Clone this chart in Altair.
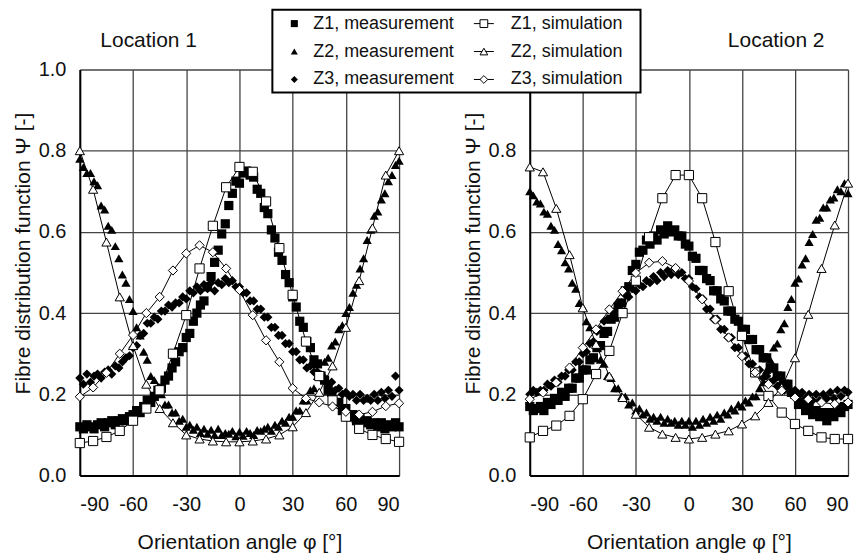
import altair as alt
import pandas as pd

FONT = "Liberation Sans"

series = ["Z1", "Z2", "Z3"]
shapes = ["square", "triangle-up", "diamond"]

x_sim = [-90, -82.5, -75, -67.5, -60, -52.5, -45, -37.5, -30, -22.5, -15, -7.5, 0,
         7.5, 15, 22.5, 30, 37.5, 45, 52.5, 60, 67.5, 75, 82.5, 90]
x_meas = list(range(-90, 91, 2))

# ---------------- Location 1 ----------------
L1_Z1_sim = [0.08, 0.085, 0.095, 0.11, 0.135, 0.165, 0.21, 0.30, 0.395, 0.51, 0.615, 0.71, 0.76,
             0.748, 0.675, 0.56, 0.445, 0.33, 0.245, 0.185, 0.145, 0.115, 0.10, 0.09, 0.083]
L1_Z2_sim = [0.80, 0.705, 0.575, 0.44, 0.32, 0.225, 0.165, 0.13, 0.10, 0.09, 0.085, 0.083, 0.083,
             0.085, 0.09, 0.10, 0.12, 0.155, 0.205, 0.27, 0.365, 0.48, 0.61, 0.74, 0.80]
L1_Z3_sim = [0.194, 0.217, 0.253, 0.30, 0.346, 0.40, 0.44, 0.505, 0.547, 0.567, 0.55, 0.51, 0.457,
             0.395, 0.333, 0.28, 0.215, 0.19, 0.18, 0.17, 0.157, 0.15, 0.157, 0.171, 0.178]

L1_Z1_meas = [0.12, 0.115, 0.125, 0.12, 0.115, 0.125, 0.13, 0.12, 0.13, 0.135,
              0.125, 0.135, 0.14, 0.135, 0.145, 0.15, 0.16, 0.155, 0.17, 0.185,
              0.18, 0.195, 0.21, 0.215, 0.235, 0.245, 0.265, 0.28, 0.305, 0.315,
              0.34, 0.35, 0.38, 0.40, 0.42, 0.43, 0.465, 0.49, 0.525, 0.555,
              0.595, 0.62, 0.665, 0.695, 0.725, 0.72, 0.745, 0.75, 0.74, 0.735,
              0.705, 0.695, 0.66, 0.645, 0.605, 0.585, 0.55, 0.53, 0.495, 0.475,
              0.44, 0.415, 0.38, 0.365, 0.33, 0.315, 0.285, 0.275, 0.245, 0.235,
              0.21, 0.205, 0.18, 0.18, 0.16, 0.165, 0.145, 0.15, 0.135, 0.14,
              0.13, 0.135, 0.125, 0.13, 0.12, 0.13, 0.115, 0.125, 0.12, 0.13,
              0.12]
L1_Z2_meas = [0.78, 0.76, 0.745, 0.745, 0.725, 0.715, 0.665, 0.655, 0.615, 0.605,
              0.565, 0.535, 0.495, 0.475, 0.435, 0.405, 0.365, 0.345, 0.305, 0.285,
              0.245, 0.235, 0.205, 0.2, 0.175, 0.175, 0.155, 0.155, 0.135, 0.14,
              0.12, 0.125, 0.113, 0.12, 0.105, 0.115, 0.103, 0.113, 0.1, 0.115,
              0.1, 0.105, 0.103, 0.11, 0.097, 0.108, 0.098, 0.11, 0.105, 0.1,
              0.112, 0.11, 0.115, 0.12, 0.11, 0.125, 0.12, 0.135, 0.13, 0.145,
              0.145, 0.16, 0.16, 0.185, 0.185, 0.21, 0.215, 0.245, 0.25, 0.28,
              0.29, 0.32, 0.33, 0.36, 0.37, 0.4, 0.415, 0.45, 0.47, 0.51,
              0.535, 0.58, 0.605, 0.64, 0.65, 0.68, 0.695, 0.725, 0.74, 0.765,
              0.775]
L1_Z3_meas = [0.24, 0.225, 0.25, 0.23, 0.245, 0.25, 0.24, 0.255, 0.26, 0.25,
              0.27, 0.265, 0.28, 0.29, 0.295, 0.315, 0.32, 0.345, 0.35, 0.375,
              0.375, 0.39, 0.385, 0.405, 0.405, 0.42, 0.415, 0.425, 0.425, 0.44,
              0.435, 0.455, 0.45, 0.465, 0.455, 0.47, 0.46, 0.475, 0.455, 0.475,
              0.47, 0.485, 0.475, 0.48, 0.465, 0.465, 0.45, 0.45, 0.43, 0.43,
              0.41, 0.41, 0.39, 0.39, 0.365, 0.365, 0.345, 0.345, 0.325, 0.325,
              0.305, 0.305, 0.285, 0.285, 0.265, 0.27, 0.255, 0.255, 0.24, 0.24,
              0.225, 0.23, 0.21, 0.215, 0.2, 0.205, 0.195, 0.2, 0.185, 0.2,
              0.185, 0.19, 0.185, 0.2, 0.185, 0.205, 0.19, 0.21, 0.195, 0.245,
              0.21]

# ---------------- Location 2 ----------------
L2_Z1_sim = [0.094, 0.11, 0.123, 0.147, 0.188, 0.25, 0.307, 0.40, 0.48, 0.587, 0.683, 0.74, 0.74,
             0.683, 0.575, 0.454, 0.344, 0.254, 0.196, 0.155, 0.127, 0.11, 0.094, 0.09, 0.09]
L2_Z2_sim = [0.76, 0.748, 0.658, 0.544, 0.413, 0.323, 0.245, 0.192, 0.151, 0.119, 0.102, 0.094, 0.09,
             0.094, 0.102, 0.11, 0.127, 0.147, 0.18, 0.217, 0.29, 0.397, 0.51, 0.617, 0.72]
L2_Z3_sim = [0.188, 0.204, 0.229, 0.266, 0.315, 0.36, 0.409, 0.454, 0.499, 0.524, 0.528, 0.511, 0.479,
             0.434, 0.384, 0.34, 0.294, 0.254, 0.225, 0.209, 0.192, 0.188, 0.18, 0.176, 0.18]

L2_Z1_meas = [0.17, 0.16, 0.165, 0.17, 0.16, 0.18, 0.175, 0.19, 0.185, 0.205,
              0.195, 0.215, 0.215, 0.24, 0.24, 0.26, 0.26, 0.285, 0.29, 0.315,
              0.32, 0.35, 0.355, 0.385, 0.39, 0.415, 0.425, 0.455, 0.465, 0.505,
              0.52, 0.55, 0.555, 0.58, 0.57, 0.59, 0.58, 0.605, 0.595, 0.615,
              0.6, 0.605, 0.59, 0.59, 0.57, 0.565, 0.54, 0.535, 0.505, 0.505,
              0.485, 0.48, 0.455, 0.455, 0.435, 0.43, 0.405, 0.405, 0.385, 0.38,
              0.36, 0.36, 0.335, 0.335, 0.31, 0.31, 0.29, 0.29, 0.265, 0.265,
              0.245, 0.245, 0.225, 0.225, 0.205, 0.2, 0.175, 0.18, 0.16, 0.17,
              0.15, 0.16, 0.145, 0.155, 0.135, 0.155, 0.145, 0.165, 0.155, 0.17,
              0.175]
L2_Z2_meas = [0.70, 0.69, 0.675, 0.67, 0.65, 0.645, 0.615, 0.605, 0.57, 0.555,
              0.525, 0.51, 0.475, 0.46, 0.425, 0.415, 0.38, 0.365, 0.33, 0.315,
              0.285, 0.275, 0.245, 0.24, 0.215, 0.215, 0.195, 0.195, 0.175, 0.18,
              0.16, 0.165, 0.15, 0.155, 0.14, 0.145, 0.135, 0.145, 0.13, 0.14,
              0.13, 0.135, 0.125, 0.135, 0.125, 0.135, 0.12, 0.135, 0.125, 0.14,
              0.13, 0.145, 0.135, 0.15, 0.14, 0.155, 0.15, 0.165, 0.16, 0.175,
              0.17, 0.185, 0.18, 0.195, 0.195, 0.215, 0.23, 0.26, 0.285, 0.315,
              0.325, 0.36, 0.375, 0.415, 0.435, 0.475, 0.485, 0.52, 0.535, 0.575,
              0.595, 0.63, 0.635, 0.66, 0.66, 0.68, 0.685, 0.705, 0.7, 0.72,
              0.695]
L2_Z3_meas = [0.20, 0.21, 0.205, 0.21, 0.21, 0.225, 0.22, 0.235, 0.23, 0.245,
              0.245, 0.26, 0.26, 0.28, 0.28, 0.3, 0.305, 0.325, 0.33, 0.355,
              0.36, 0.38, 0.385, 0.405, 0.405, 0.425, 0.425, 0.445, 0.44, 0.46,
              0.455, 0.47, 0.465, 0.48, 0.475, 0.49, 0.48, 0.5, 0.49, 0.505,
              0.495, 0.51, 0.495, 0.5, 0.485, 0.485, 0.465, 0.46, 0.44, 0.435,
              0.41, 0.41, 0.385, 0.385, 0.36, 0.36, 0.34, 0.34, 0.315, 0.315,
              0.295, 0.295, 0.275, 0.275, 0.255, 0.26, 0.24, 0.245, 0.23, 0.235,
              0.22, 0.225, 0.21, 0.22, 0.2, 0.21, 0.195, 0.205, 0.19, 0.2,
              0.185, 0.2, 0.185, 0.2, 0.19, 0.205, 0.19, 0.21, 0.195, 0.21,
              0.205]

x_ticks = [-90, -60, -30, 0, 30, 60, 90]
y_ticks = [0.0, 0.2, 0.4, 0.6, 0.8, 1.0]


def build_df(meas, sims):
    rows = []
    for name, vals in zip(series, meas):
        for a, v in zip(x_meas, vals):
            rows.append({"angle": a, "psi": v, "series": name, "kind": "measurement"})
    for name, vals in zip(series, sims):
        for a, v in zip(x_sim, vals):
            rows.append({"angle": a, "psi": v, "series": name, "kind": "simulation"})
    return pd.DataFrame(rows)


df1 = build_df([L1_Z1_meas, L1_Z2_meas, L1_Z3_meas], [L1_Z1_sim, L1_Z2_sim, L1_Z3_sim])
df2 = build_df([L2_Z1_meas, L2_Z2_meas, L2_Z3_meas], [L2_Z1_sim, L2_Z2_sim, L2_Z3_sim])

shape_scale = alt.Scale(domain=series, range=shapes)
one = pd.DataFrame({"k": [0]})


def panel(df, title_text, title_x, w, h, y_label_expr, extra_layers=()):
    X = alt.X("angle:Q", scale=alt.Scale(domain=[-90, 90], nice=False, zero=False),
              axis=alt.Axis(values=x_ticks, title="Orientation angle φ [°]", labelPadding=19,
                            titlePadding=17, labelExpr="'' + datum.value"))
    Y = alt.Y("psi:Q", scale=alt.Scale(domain=[0, 1], nice=False),
              axis=alt.Axis(values=y_ticks, title="Fibre distribution function Ψ [-]",
                            labelExpr=y_label_expr,
                            labelPadding=14, titlePadding=5, titleY=184))
    base = alt.Chart(df)
    meas = base.transform_filter(alt.datum.kind == "measurement").mark_point(
        filled=True, color="black", opacity=1, size=85
    ).encode(x=X, y=Y, shape=alt.Shape("series:N", scale=shape_scale, legend=None))
    line = base.transform_filter(alt.datum.kind == "simulation").mark_line(
        color="black", strokeWidth=1
    ).encode(x=X, y=Y, detail="series:N")
    simp = base.transform_filter(alt.datum.kind == "simulation").mark_point(
        filled=True, fill="white", stroke="black", strokeWidth=1, opacity=1, size=85
    ).encode(x=X, y=Y, shape=alt.Shape("series:N", scale=shape_scale, legend=None))
    ttl = alt.Chart(one).mark_text(text=title_text, fontSize=21, font=FONT, color="#111",
                                   align="center", baseline="middle").encode(
        x=alt.value(title_x), y=alt.value(-29))
    return alt.layer(meas, line, simp, ttl, *extra_layers).properties(width=w, height=h)


legend_layers = [
    alt.Chart(one).mark_rect(fill="white", stroke="black", strokeWidth=2).encode(
        x=alt.value(-258), x2=alt.value(111), y=alt.value(-60), y2=alt.value(23))
]
for i, (name, shp) in enumerate(zip(series, shapes)):
    yy = -46 + 28 * i
    legend_layers.append(alt.Chart(one).mark_point(shape=shp, filled=True, color="black", size=50,
                                                   opacity=1).encode(x=alt.value(-236), y=alt.value(yy)))
    legend_layers.append(alt.Chart(one).mark_text(text=f"{name}, measurement", align="left",
                                                  baseline="middle", fontSize=18, font=FONT,
                                                  color="#111").encode(x=alt.value(-217), y=alt.value(yy)))
    legend_layers.append(alt.Chart(one).mark_rule(color="black", strokeWidth=1).encode(
        x=alt.value(-56), x2=alt.value(-36), y=alt.value(yy)))
    legend_layers.append(alt.Chart(one).mark_point(shape=shp, filled=True, fill="white", stroke="black",
                                                   strokeWidth=1, size=60, opacity=1).encode(
        x=alt.value(-46), y=alt.value(yy)))
    legend_layers.append(alt.Chart(one).mark_text(text=f"{name}, simulation", align="left",
                                                  baseline="middle", fontSize=18, font=FONT,
                                                  color="#111").encode(x=alt.value(-19), y=alt.value(yy)))

left = panel(df1, "Location 1", 69, 320, 407, "format(datum.value, '.1f')")
# the 1.0 label of the right panel sits under the legend box in the original
right = panel(df2, "Location 2", 247, 319, 407,
              "datum.value >= 1 ? '' : format(datum.value, '.1f')", legend_layers)

chart = alt.hconcat(left, right, spacing=131, bounds="flush").properties(
    padding={"left": 4, "top": 0, "right": 0, "bottom": 0}
).configure_view(stroke=None).configure_axis(
    labelFont=FONT, titleFont=FONT, labelFontSize=20, titleFontSize=21,
    labelColor="#111", titleColor="#111", titleFontWeight="normal",
    gridColor="#444", gridWidth=1.3, gridOpacity=1,
    domainColor="black", domainWidth=2, ticks=False
)

chart.save("out.html", embed_options={"renderer": "svg", "actions": False})
